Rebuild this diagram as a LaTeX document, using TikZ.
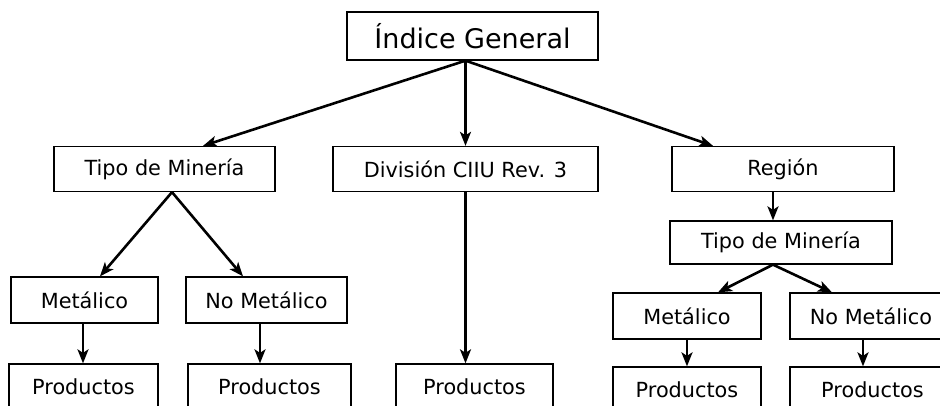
\documentclass[tikz,border=0pt]{standalone}
\usepackage{fontspec}
\setmainfont{DejaVu Sans}
\usetikzlibrary{arrows.meta,calc}

\begin{document}
\begin{tikzpicture}[x=1pt, y=-1pt,
        box/.style={draw, line width=1.3pt, inner sep=0pt, minimum height=45pt, font=\fontsize{20.8}{25}\selectfont},
        arr/.style={line width=2.6pt, -{Stealth[length=14pt,width=11pt,inset=3.5pt]}}]
        \useasboundingbox (0,0) rectangle (940,405);
        \clip (0,0) rectangle (940,405);
        % nodes (top)
        \node[box, minimum width=251pt, minimum height=48pt, font=\fontsize{27}{32}\selectfont] (IG) at (472.5,36) {Índice General};
        \node[box, minimum width=221pt] (TM) at (164.5,169) {Tipo de Minería};
        \node[box, minimum width=265pt] (CI) at (465.5,169) {División CIIU Rev. 3};
        \node[box, minimum width=222pt] (RG) at (783,169) {Región};
        % nodes (left and middle)
        \node[box, minimum width=147pt, minimum height=46pt] (Me) at (84.5,300) {Metálico};
        \node[box, minimum width=161pt, minimum height=46pt] (NM) at (266.5,300) {No Metálico};
        \node[box, minimum width=149pt, minimum height=46pt] (Pm) at (83.5,387) {Productos};
        \node[box, minimum width=163pt, minimum height=46pt] (Pn) at (269.5,387) {Productos};
        \node[box, minimum width=157pt, minimum height=46pt] (Pc) at (474.5,387) {Productos};
        % nodes (right)
        \node[box, minimum width=222pt, minimum height=43pt] (TMr) at (781,242.5) {Tipo de Minería};
        \node[box, minimum width=148pt, minimum height=46pt] (Mr) at (687,316) {Metálico};
        \node[box, minimum width=162pt, minimum height=46pt] (NMr) at (871,316) {No Metálico};
        \node[box, minimum width=148pt, minimum height=46pt] (Pmr) at (687,390) {Productos};
        \node[box, minimum width=165pt, minimum height=46pt] (Pnr) at (872.5,390) {Productos};

        % edges (top)
        \draw[arr] (IG.south -| CI.north) -- ($(TM.north)+(38.5,0)$);
        \draw[arr] (IG.south -| CI.north) -- (CI.north);
        \draw[arr] (IG.south -| CI.north) -- ($(RG.north)+(-70,0)$);
        % edges (left and middle)
        \draw[arr] ($(TM.south)+(7.5,0)$) -- ($(Me.north)+(15.5,0)$);
        \draw[arr] ($(TM.south)+(7.5,0)$) -- ($(NM.north)+(-23.5,0)$);
        \draw[arr] ($(Me.south)+(-1.5,0)$) coordinate (m1) -- (m1 |- Pm.north);
        \draw[arr] ($(NM.south)+(-6.5,0)$) coordinate (n1) -- (n1 |- Pn.north);
        \draw[arr] (CI.south) -- (CI.south |- Pc.north);
        % edges (right)
        \draw[arr] ($(RG.south)+(-10,0)$) coordinate (r1) -- (r1 |- TMr.north);
        \draw[arr] ($(TMr.south)+(-8,0)$) -- ($(Mr.north)+(31,0)$);
        \draw[arr] ($(TMr.south)+(-8,0)$) -- ($(NMr.north)+(-39,0)$);
        \draw[arr] (Mr.south) -- (Mr.south |- Pmr.north);
        \draw[arr] ($(NMr.south)+(-8,0)$) coordinate (n2) -- (n2 |- Pnr.north);
\end{tikzpicture}
\end{document}
